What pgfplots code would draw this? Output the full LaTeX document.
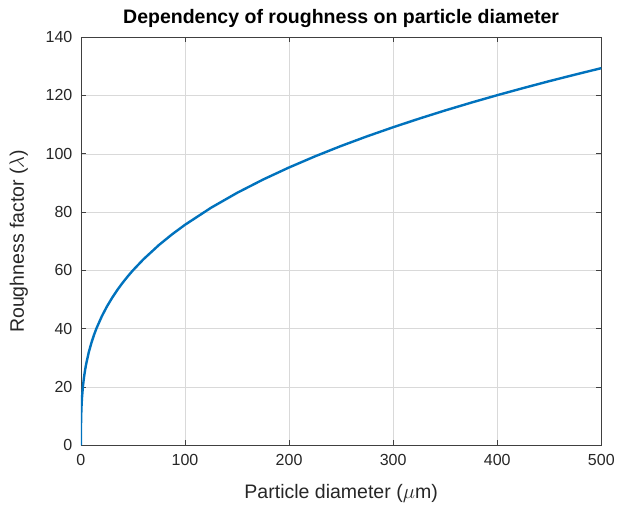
\documentclass[border={6pt 3pt 0pt 6pt}]{standalone}
\usepackage{fontspec}
\setmainfont{Liberation Sans}
\usepackage{pgfplots}
\pgfplotsset{compat=1.18}
\definecolor{mblue}{RGB}{0,114,189}
\begin{document}
\begin{tikzpicture}
\begin{axis}[
  scale only axis,
  width=520pt, height=408pt,
  xmin=0, xmax=500, ymin=0, ymax=140,
  xtick={0,100,...,500}, ytick={0,20,...,140},
  grid=major,
  major grid style={draw=black!15, line width=0.6pt},
  axis line style={draw=black!75, line width=0.7pt},
  tick style={draw=black!75, line width=0.7pt},
  tick align=inside,
  major tick length=5pt,
  xtick pos=both, ytick pos=both,
  /pgf/number format/assume math mode=true,
  ticklabel style={font=\fontsize{16}{18}\selectfont, text=black!85},
  yticklabel style={xshift=-5pt},
  xticklabel style={yshift=-5pt},
  xlabel={Particle diameter ($\mu$m)},
  ylabel={Roughness factor ($\lambda$)},
  label style={font=\fontsize{19.5}{22}\selectfont, text=black!85},
  title={Dependency of roughness on particle diameter},
  title style={font=\bfseries\fontsize{19.5}{22}\selectfont, yshift=0pt},
  xlabel style={yshift=-12pt},
  ylabel style={yshift=11pt},
]
\addplot[mblue, line width=2.4pt, line join=round] coordinates {
(0,0) (0.01,3.51) (0.05,6.00) (0.1,7.57) (0.25,10.27) (0.5,12.94) (1,16.3)
(2,20.54) (3,23.50) (4,25.87) (5,27.87) (7.5,31.90) (10,35.11) (12.5,37.83)
(15,40.20) (20,44.24) (25,47.66) (30,50.64) (35,53.32) (40,55.75) (45,57.98)
(50,60.05) (60,63.81) (75,68.74) (87.5,72.37) (100,75.66)
(125,81.5) (150,86.60) (175,91.17) (200,95.32) (225,99.14) (250,102.69)
(275,106.0) (300,109.11) (325,112.06) (350,114.87) (375,117.54)
(400,120.10) (425,122.54) (450,124.91) (475,127.17) (500,129.37)
};
\end{axis}
\end{tikzpicture}
\end{document}
